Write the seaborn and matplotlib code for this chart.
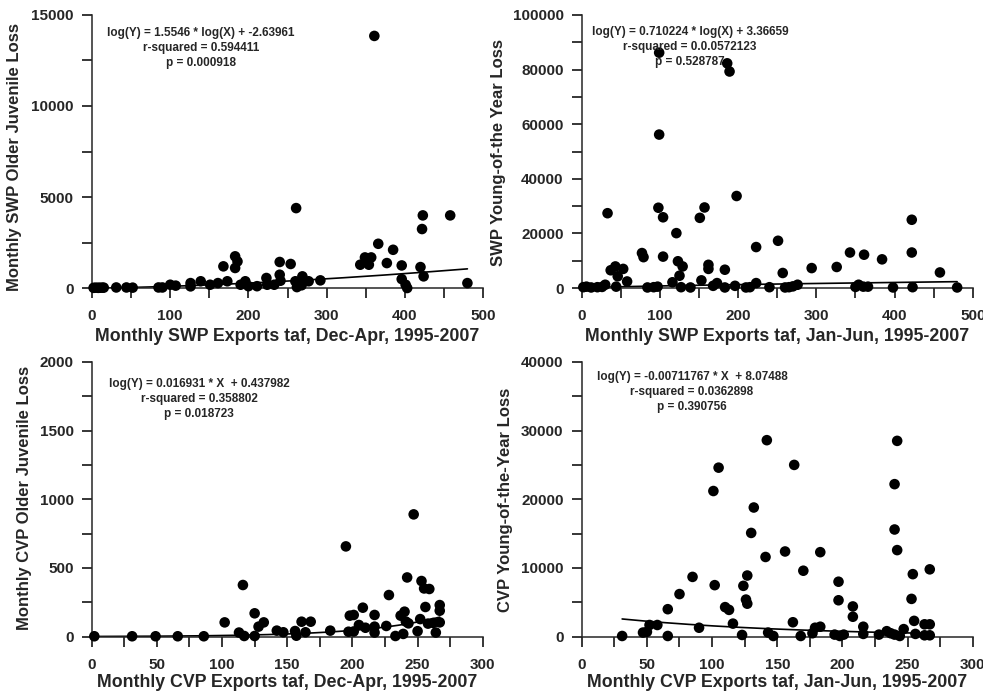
import numpy as np
import pandas as pd
import seaborn as sns
import matplotlib.pyplot as plt
from matplotlib.ticker import MultipleLocator

# --- data ---
# top left: SWP exports Dec-Apr vs older juvenile loss
swp_dec_x = [361, 261, 423, 458, 422, 366, 385, 349, 357, 343,
             354, 377, 396, 420, 424, 396, 401, 403, 480, 292,
             254, 240, 240, 183, 186, 168, 183, 223, 269, 260,
             277, 196, 139, 173, 161, 151, 126, 126, 100, 107,
             85, 90, 52, 44, 31, 2, 5, 8, 10, 13,
             15, 211, 224, 233, 241, 262, 268, 190, 200]
swp_dec_y = [13850, 4390, 3990, 3990, 3240, 2430, 2100, 1680, 1680, 1280,
             1280, 1370, 1240, 1150, 640, 490, 180, 0, 270, 420,
             1320, 1430, 730, 1740, 1460, 1190, 1100, 550, 640, 370,
             370, 370, 370, 370, 270, 180, 270, 90, 180, 130,
             30, 30, 20, 30, 30, 10, 20, 10, 15, 20,
             20, 100, 180, 180, 400, 50, 150, 180, 100]

# top right: SWP exports Jan-Jun vs young-of-the-year loss
swp_jan_x = [99, 186, 189, 99, 198, 33, 98, 157, 104, 151,
             422, 121, 251, 223, 343, 422, 361, 384, 77, 79,
             104, 123, 129, 162, 162, 183, 294, 326, 458, 257,
             43, 37, 53, 46, 58, 125, 116, 153, 173, 223,
             30, 354, 276,
             2, 6, 12, 20, 26, 44, 84, 92, 97, 127,
             139, 168, 183, 196, 210, 215, 240, 260, 265, 270,
             350, 360, 366, 398, 423, 480]
swp_jan_y = [86200, 82300, 79300, 56200, 33700, 27400, 29400, 29500, 25900, 25700,
             25000, 20100, 17300, 15000, 13000, 13000, 12200, 10500, 12800, 11300,
             11500, 9800, 7900, 8500, 7000, 6700, 7300, 7700, 5700, 5500,
             7900, 6500, 7000, 4300, 2400, 4500, 2100, 2800, 1800, 1800,
             1200, 1200, 1200,
             300, 500, 200, 300, 400, 500, 200, 300, 500, 300,
             200, 800, 200, 800, 200, 300, 300, 200, 300, 600,
             400, 500, 500, 200, 300, 200]

# bottom left: CVP exports Dec-Apr vs older juvenile loss
cvp_dec_x = [247, 195, 242, 116, 253, 255, 259, 228, 256, 267,
             267, 208, 125, 217, 198, 201, 240, 237, 252, 102,
             132, 128, 161, 168, 267, 262, 258, 243, 205, 210,
             226, 217, 241, 113, 142, 147, 156, 164, 183, 197,
             201, 217, 250, 264, 239, 233, 157, 117, 125, 2,
             31, 49, 66, 86]
cvp_dec_y = [890, 657, 431, 376, 405, 351, 347, 303, 216, 230,
             189, 211, 170, 158, 153, 158, 182, 153, 128, 104,
             104, 73, 109, 109, 104, 100, 95, 97, 85, 65,
             78, 73, 110, 30, 44, 32, 41, 32, 44, 36,
             38, 30, 40, 30, 20, 5, 7, 5, 5, 3,
             3, 3, 3, 3]

# bottom right: CVP exports Jan-Jun vs young-of-the-year loss
cvp_jan_x = [142, 242, 105, 163, 101, 240, 132, 130, 240, 242,
             141, 156, 183, 170, 267, 254, 85, 127, 102, 124,
             197, 75, 126, 127, 197, 253, 66, 110, 113, 208,
             208, 162, 116, 255, 263, 267, 52, 58, 90, 183,
             179, 216, 247, 234, 47, 50, 143, 194, 201, 216,
             237, 240, 256, 263, 267, 177, 228, 31, 66, 123,
             147, 168, 198, 244]
cvp_jan_y = [28600, 28500, 24600, 25000, 21200, 22200, 18800, 15100, 15600, 12600,
             11600, 12400, 12300, 9600, 9800, 9100, 8700, 8900, 7500, 7400,
             8000, 6200, 5400, 4800, 5300, 5500, 4000, 4300, 3900, 4400,
             2900, 2100, 1900, 2300, 1800, 1800, 1700, 1700, 1300, 1450,
             1300, 1450, 1100, 800, 600, 700, 600, 300, 300, 400,
             500, 300, 400, 200, 200, 500, 300, 100, 100, 250,
             100, 100, 100, 100]

# fit coefficients printed on the chart (natural log)
swp_dec_fit = (1.5546, -2.63961)     # log-log
swp_jan_fit = (0.710224, 3.36659)    # log-log
cvp_dec_fit = (0.016931, 0.437982)   # log-linear
cvp_jan_fit = (-0.00711767, 8.07488) # log-linear

swp_dec_txt = "log(Y) = 1.5546 * log(X) + -2.63961\nr-squared = 0.594411\np = 0.000918"
swp_jan_txt = "log(Y) = 0.710224 * log(X) + 3.36659\nr-squared = 0.0.0572123\np = 0.528787"
cvp_dec_txt = "log(Y) = 0.016931 * X  + 0.437982\nr-squared = 0.358802\np = 0.018723"
cvp_jan_txt = "log(Y) = -0.00711767 * X  + 8.07488\nr-squared = 0.0362898\np = 0.390756"

sns.set_style("ticks")
FONT = ["Liberation Sans Narrow", "Liberation Sans", "DejaVu Sans"]
plt.rcParams["font.family"] = FONT
plt.rcParams["font.weight"] = "bold"

fig = plt.figure(figsize=(9.83, 6.94), dpi=100)


def panel(rect, x, y, fit, loglog, txt, txt_xy, xmax, xmaj, ymax, ymaj,
          xlabel, ylabel, ylab_xy, xlab_y):
    ax = fig.add_axes(rect)
    df = pd.DataFrame({"x": x, "y": y})
    sns.scatterplot(data=df, x="x", y="y", ax=ax, color="black", s=58,
                    edgecolor="none", linewidth=0, clip_on=False, zorder=3)
    # fitted curve from the printed coefficients
    xs = np.linspace(df["x"].min(), df["x"].max(), 200)
    b, a = fit
    ys = np.exp(b * np.log(xs) + a) if loglog else np.exp(b * xs + a)
    ax.plot(xs, ys, color="black", lw=1.2, zorder=2)

    ax.set_xlim(0, xmax)
    ax.set_ylim(0, ymax)
    ax.xaxis.set_major_locator(MultipleLocator(xmaj))
    ax.xaxis.set_minor_locator(MultipleLocator(xmaj / 2))
    ax.yaxis.set_major_locator(MultipleLocator(ymaj))
    ax.yaxis.set_minor_locator(MultipleLocator(ymaj / 2))
    ax.tick_params(which="both", direction="out", length=7, width=1.1, color="black")
    ax.tick_params(axis="x", which="both", pad=8)
    ax.tick_params(axis="y", which="both", pad=6)
    for lab in ax.get_xticklabels() + ax.get_yticklabels():
        lab.set_fontsize(11)
        lab.set_fontweight("bold")
    sns.despine(ax=ax)
    for s in ["left", "bottom"]:
        ax.spines[s].set_linewidth(1.1)

    ax.set_xlabel(xlabel, fontsize=12.8, fontweight="bold", va="center")
    ax.set_ylabel(ylabel, fontsize=12, fontweight="bold", va="center")
    ax.xaxis.set_label_coords(0.5, xlab_y)
    ax.yaxis.set_label_coords(*ylab_xy)

    ax.text(txt_xy[0], txt_xy[1], txt, transform=ax.transAxes, ha="center",
            va="center", fontsize=8.5, fontweight="bold", linespacing=1.35)
    return ax


panel([0.0936, 0.585, 0.3978, 0.3934], swp_dec_x, swp_dec_y, swp_dec_fit, True,
      swp_dec_txt, (0.279, 0.879), 500, 100, 15000, 5000,
      "Monthly SWP Exports taf, Dec-Apr, 1995-2007",
      "Monthly SWP Older Juvenile Loss", (-0.197, 0.48), -0.179)
panel([0.5918, 0.585, 0.3978, 0.3934], swp_jan_x, swp_jan_y, swp_jan_fit, True,
      swp_jan_txt, (0.277, 0.883), 500, 100, 100000, 20000,
      "Monthly SWP Exports taf, Jan-Jun, 1995-2007",
      "SWP Young-of-the Year Loss", (-0.212, 0.498), -0.179)
panel([0.0933, 0.0826, 0.3978, 0.396], cvp_dec_x, cvp_dec_y, cvp_dec_fit, False,
      cvp_dec_txt, (0.275, 0.864), 300, 50, 2000, 500,
      "Monthly CVP Exports taf, Dec-Apr, 1995-2007",
      "Monthly CVP Older Juvenile Loss", (-0.171, 0.504), -0.168)
panel([0.5918, 0.0826, 0.3978, 0.396], cvp_jan_x, cvp_jan_y, cvp_jan_fit, False,
      cvp_jan_txt, (0.282, 0.89), 300, 50, 40000, 10000,
      "Monthly CVP Exports taf, Jan-Jun, 1995-2007",
      "CVP Young-of-the-Year Loss", (-0.196, 0.497), -0.168)

fig.savefig("out.png", dpi=100)
